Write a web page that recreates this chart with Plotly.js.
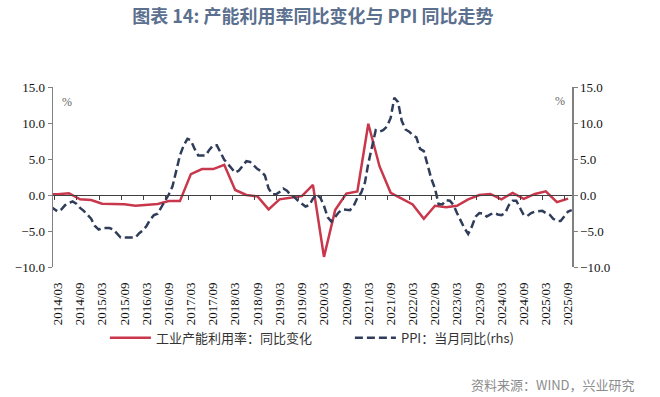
<!DOCTYPE html>
<html>
<head>
<meta charset="utf-8">
<script src="https://cdn.plot.ly/plotly-3.0.1.min.js"></script>
<style>
  html, body { margin: 0; padding: 0; background: #ffffff; }
  #chart { width: 660px; height: 397px; }
</style>
</head>
<body>
<div id="chart"></div>
<script>
// ---------------- DATA ----------------
// x-axis tick labels (every 6 months)
const tickLabels = ['2014/03','2014/09','2015/03','2015/09','2016/03','2016/09','2017/03','2017/09',
  '2018/03','2018/09','2019/03','2019/09','2020/03','2020/09','2021/03','2021/09',
  '2022/03','2022/09','2023/03','2023/09','2024/03','2024/09','2025/03','2025/09'];

// Industrial capacity utilisation, YoY change (pp), quarterly, first quarter-end = 2013/12
const capStart = [2013, 12];
const capUtilYoY = [
  0.1,
  0.1, 0.25, -0.6, -0.7,      // 2014
  -1.2, -1.25, -1.3, -1.5,    // 2015
  -1.4, -1.25, -0.85, -0.85,  // 2016
  2.9, 3.6, 3.6, 4.2,         // 2017
  0.7, 0.0, -0.2, -2.0,       // 2018
  -0.6, -0.4, -0.15, 1.4,     // 2019
  -8.6, -2.1, 0.2, 0.5,       // 2020
  9.9, 4.0, 0.3, -0.5,        // 2021
  -1.3, -3.3, -1.5, -1.7,     // 2022
  -1.5, -0.6, 0.0, 0.15,      // 2023
  -0.6, 0.3, -0.55, 0.15,     // 2024
  0.5, -1.0, -0.5             // 2025
];

// PPI YoY (%), monthly, first month = 2014/01
const ppiStart = [2014, 1];
const ppiYoY = [
  -1.6, -2.0, -2.3, -2.0, -1.4, -1.1, -0.9, -1.2, -1.8, -2.2, -2.7, -3.3,   // 2014
  -4.3, -4.8, -4.6, -4.6, -4.6, -4.8, -5.4, -5.9, -5.9, -5.9, -5.9, -5.9,   // 2015
  -5.3, -4.9, -4.3, -3.4, -2.8, -2.6, -1.7, -0.8, 0.1, 1.2, 3.3, 5.5,       // 2016
  6.9, 7.8, 7.6, 6.4, 5.5, 5.5, 5.5, 6.3, 6.9, 6.9, 5.8, 4.9,               // 2017
  4.3, 3.7, 3.1, 3.4, 4.1, 4.7, 4.6, 4.1, 3.6, 3.3, 2.7, 0.9,               // 2018
  0.1, 0.1, 0.4, 0.9, 0.6, 0.0, -0.3, -0.8, -1.2, -1.6, -1.4, -0.5,         // 2019
  0.1, -0.4, -1.5, -3.1, -3.7, -3.0, -2.4, -2.0, -2.1, -2.1, -1.5, -0.4,    // 2020
  0.3, 1.7, 4.4, 6.8, 9.0, 8.8, 9.0, 9.5, 10.7, 13.5, 12.9, 10.3,           // 2021
  9.1, 8.8, 8.3, 8.0, 6.4, 6.1, 4.2, 2.3, 0.9, -1.3, -1.3, -0.7,            // 2022
  -0.8, -1.4, -2.5, -3.6, -4.6, -5.4, -4.4, -3.0, -2.5, -2.6, -3.0, -2.7,   // 2023
  -2.5, -2.7, -2.8, -2.5, -1.4, -0.8, -0.8, -1.8, -2.8, -2.9, -2.5, -2.3,   // 2024
  -2.3, -2.2, -2.5, -2.7, -3.3, -3.6, -3.6, -2.9, -2.3, -2.1                // 2025
];

const seriesNames = ['工业产能利用率：同比变化', 'PPI：当月同比(rhs)'];
const titleText = '图表 14: 产能利用率同比变化与 PPI 同比走势';
const sourceText = '资料来源：WIND，兴业研究';

// ---------------- helpers ----------------
function pad2(n) { return (n < 10 ? '0' : '') + n; }
function seriesDates(start, stepMonths, count) {
  const out = [];
  let y = start[0], m = start[1];
  for (let i = 0; i < count; i++) {
    out.push(y + '-' + pad2(m) + '-15');
    m += stepMonths;
    while (m > 12) { m -= 12; y += 1; }
  }
  return out;
}
const capDates = seriesDates(capStart, 3, capUtilYoY.length);
const ppiDates = seriesDates(ppiStart, 1, ppiYoY.length);
const labelVals = tickLabels.map(s => s.replace('/', '-') + '-15');
const tickMarkVals = tickLabels.map(s => {
  let y = +s.slice(0, 4), m = +s.slice(5, 7) - 1;
  if (m < 1) { m = 12; y -= 1; }
  return y + '-' + pad2(m) + '-20';
});

const xRange = ['2014-02-04', '2025-10-17'];
const serif = "'Liberation Serif', 'Times New Roman', serif";
const cjk = "'Noto Sans CJK SC', 'Noto Sans', sans-serif";

const traces = [
  {
    x: capDates, y: capUtilYoY, name: seriesNames[0],
    type: 'scatter', mode: 'lines', xaxis: 'x', yaxis: 'y',
    line: { color: '#C8374B', width: 2.5 }
  },
  {
    x: ppiDates, y: ppiYoY, name: seriesNames[1],
    type: 'scatter', mode: 'lines', xaxis: 'x', yaxis: 'y2',
    line: { color: '#2F3C5A', width: 2.5, dash: '8px,4px' }
  },
  // helper trace (draws nothing) so that the zero-level category axis is created
  {
    x: [labelVals[0]], y: [0], xaxis: 'x2', yaxis: 'y',
    type: 'scatter', mode: 'lines', showlegend: false, hoverinfo: 'skip',
    line: { color: 'rgba(0,0,0,0)', width: 0 }
  }
];

const yCommon = {
  range: [-10, 15], dtick: 5, tick0: 0, tickformat: '.1f',
  showgrid: false, zeroline: false,
  showline: true, linecolor: '#808080', linewidth: 1.5,
  ticks: 'outside', ticklen: 4, tickcolor: '#808080', tickwidth: 1,
  tickfont: { family: serif, size: 13, color: '#111111' },
  fixedrange: true
};

const layout = {
  width: 660, height: 397,
  margin: { l: 53, r: 88, t: 87, b: 130 },
  paper_bgcolor: '#ffffff', plot_bgcolor: '#ffffff',
  showlegend: true,
  title: {
    text: titleText, x: 0.474, xanchor: 'center', y: 0.957, yanchor: 'middle',
    font: { family: cjk, size: 18, color: '#5B6F8F', weight: 'bold' }
  },
  xaxis: {
    type: 'date', range: xRange, anchor: 'y',
    tickmode: 'array', tickvals: labelVals, ticktext: tickLabels,
    tickangle: -90, ticks: '', showline: false, showgrid: false, zeroline: false,
    ticklabelstandoff: 12,
    tickfont: { family: serif, size: 13, color: '#111111' },
    fixedrange: true
  },
  xaxis2: {
    type: 'date', range: xRange, overlaying: 'x', anchor: 'free', position: 0.4,
    tickmode: 'array', tickvals: tickMarkVals, showticklabels: false,
    ticks: 'outside', ticklen: 4, tickcolor: '#404040', tickwidth: 1,
    showline: true, linecolor: '#404040', linewidth: 1,
    showgrid: false, zeroline: false, fixedrange: true
  },
  yaxis: Object.assign({}, yCommon, { side: 'left', anchor: 'x' }),
  yaxis2: Object.assign({}, yCommon, { side: 'right', overlaying: 'y', anchor: 'x' }),
  legend: {
    orientation: 'h', x: 0.1, xanchor: 'left', y: -0.394, yanchor: 'middle',
    itemwidth: 41, entrywidth: 189, entrywidthmode: 'pixels',
    font: { family: cjk, size: 13, color: '#333333' },
    bgcolor: 'rgba(0,0,0,0)', borderwidth: 0
  },
  annotations: [
    { text: '%', xref: 'paper', yref: 'paper', x: 0.027, y: 0.919, showarrow: false,
      xanchor: 'center', yanchor: 'middle', font: { family: serif, size: 12, color: '#666666' } },
    { text: '%', xref: 'paper', yref: 'paper', x: 0.977, y: 0.924, showarrow: false,
      xanchor: 'center', yanchor: 'middle', font: { family: serif, size: 12, color: '#666666' } },
    { text: sourceText, xref: 'paper', yref: 'paper', x: 1.125, y: -0.65, showarrow: false,
      xanchor: 'right', yanchor: 'middle', font: { family: cjk, size: 13, color: '#8C8C8C' } }
  ],
  hovermode: false
};

Plotly.newPlot('chart', traces, layout, { displayModeBar: false, staticPlot: true });
</script>
</body>
</html>
